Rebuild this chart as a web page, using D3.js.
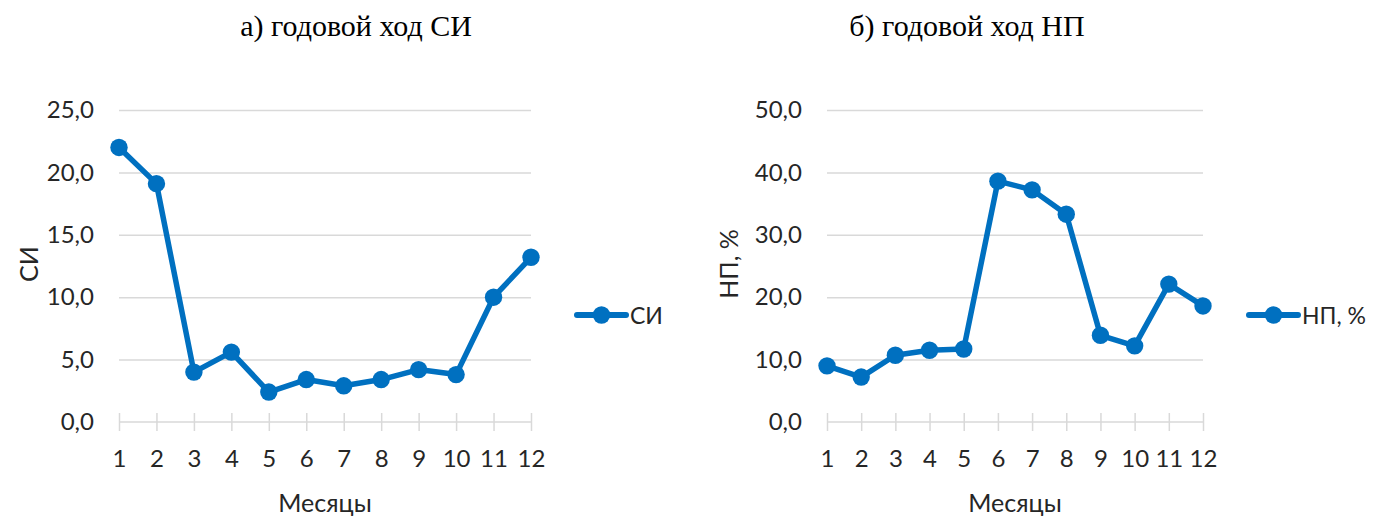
<!DOCTYPE html>
<html>
<head>
<meta charset="utf-8">
<script src="https://cdn.jsdelivr.net/npm/d3@7"></script>
<style>
  html, body { margin: 0; padding: 0; background: #fff; }
  svg { display: block; }
</style>
</head>
<body>
<svg id="chart" width="1373" height="518"></svg>
<script>
const months = [1, 2, 3, 4, 5, 6, 7, 8, 9, 10, 11, 12];
const siValues = [22.0, 19.1, 4.0, 5.6, 2.4, 3.4, 2.9, 3.4, 4.2, 3.8, 10.0, 13.2];
const npValues = [9.0, 7.2, 10.7, 11.5, 11.7, 38.6, 37.2, 33.3, 13.9, 12.2, 22.1, 18.6];
const siTicks = [0, 5, 10, 15, 20, 25];
const npTicks = [0, 10, 20, 30, 40, 50];
const titles = ["а) годовой ход СИ", "б) годовой ход НП"];
const yTitles = ["СИ", "НП, %"];
const legendNames = ["СИ", "НП, %"];
const xTitle = "Месяцы";

const svg = d3.select("#chart");
const blue = "#0070C0";
const grid = "#d9d9d9";
const textCol = "#262626";
const fmt = v => d3.format(".1f")(v).replace(".", ",");

const panels = [
  { values: siValues, ticks: siTicks, max: 25, x0: 119, x1: 531, title: titles[0], titleX: 356,
    yTitle: yTitles[0], yTitleX: 29, legend: legendNames[0], legX: 577 },
  { values: npValues, ticks: npTicks, max: 50, x0: 827, x1: 1203, title: titles[1], titleX: 967,
    yTitle: yTitles[1], yTitleX: 729, legend: legendNames[1], legX: 1249 }
];

const yTop = 110, yBot = 422;

panels.forEach(p => {
  const x = d3.scalePoint().domain(months).range([p.x0, p.x1]);
  const y = d3.scaleLinear().domain([0, p.max]).range([yBot, yTop]);
  const g = svg.append("g");

  // Title
  g.append("text")
    .attr("x", p.titleX).attr("y", 36)
    .attr("text-anchor", "middle")
    .attr("font-family", "'Liberation Serif', 'Times New Roman', serif")
    .attr("font-size", 30)
    .attr("fill", "#000")
    .text(p.title);

  // Gridlines + y labels
  const yAxis = g.append("g")
    .attr("transform", `translate(${p.x0},0)`)
    .call(d3.axisLeft(y).tickValues(p.ticks).tickSize(-(p.x1 - p.x0)).tickPadding(25).tickFormat(fmt));
  yAxis.select(".domain").remove();
  yAxis.selectAll(".tick line").attr("stroke", grid).attr("stroke-width", 1.5)
    .filter(d => d === 0).remove();
  yAxis.selectAll(".tick text")
    .attr("font-family", "Lato, 'Open Sans', sans-serif")
    .attr("font-size", 24).attr("fill", textCol);

  // X axis
  const xAxis = g.append("g")
    .attr("transform", `translate(0,${yBot})`)
    .call(d3.axisBottom(x).tickSizeOuter(0).tickSizeInner(8).tickPadding(0));
  xAxis.select(".domain").attr("stroke", grid).attr("stroke-width", 1.5)
    .attr("d", `M${p.x0},0H${p.x1}`);
  xAxis.selectAll(".tick line").attr("stroke", grid).attr("stroke-width", 1.5)
    .attr("y1", -9).attr("y2", 9);
  xAxis.selectAll(".tick text")
    .attr("y", 28)
    .attr("font-family", "Lato, 'Open Sans', sans-serif")
    .attr("font-size", 24).attr("fill", textCol);

  // Axis titles
  g.append("text")
    .attr("x", (p.x0 + p.x1) / 2).attr("y", 512)
    .attr("text-anchor", "middle")
    .attr("font-family", "Lato, 'Open Sans', sans-serif")
    .attr("font-size", 25).attr("fill", textCol)
    .text(xTitle);
  g.append("text")
    .attr("transform", `translate(${p.yTitleX + 9},264) rotate(-90)`)
    .attr("text-anchor", "middle")
    .attr("font-family", "Lato, 'Open Sans', sans-serif")
    .attr("font-size", 25).attr("fill", textCol)
    .text(p.yTitle);

  // Line
  const line = d3.line().x((d, i) => x(months[i])).y(d => y(d));
  g.append("path").datum(p.values)
    .attr("d", line)
    .attr("fill", "none").attr("stroke", blue)
    .attr("stroke-width", 5.5).attr("stroke-linejoin", "round");
  g.selectAll("circle.pt").data(p.values).enter().append("circle")
    .attr("class", "pt")
    .attr("cx", (d, i) => x(months[i])).attr("cy", d => y(d))
    .attr("r", 8.7).attr("fill", blue);

  // Legend
  const ly = 315;
  g.append("line").attr("x1", p.legX).attr("x2", p.legX + 49)
    .attr("y1", ly).attr("y2", ly)
    .attr("stroke", blue).attr("stroke-width", 6).attr("stroke-linecap", "round");
  g.append("circle").attr("cx", p.legX + 24.5).attr("cy", ly).attr("r", 8.7).attr("fill", blue);
  g.append("text").attr("x", p.legX + 53).attr("y", ly + 8.5)
    .attr("font-family", "Lato, 'Open Sans', sans-serif")
    .attr("font-size", 23).attr("fill", textCol)
    .text(p.legend);
});
</script>
</body>
</html>
